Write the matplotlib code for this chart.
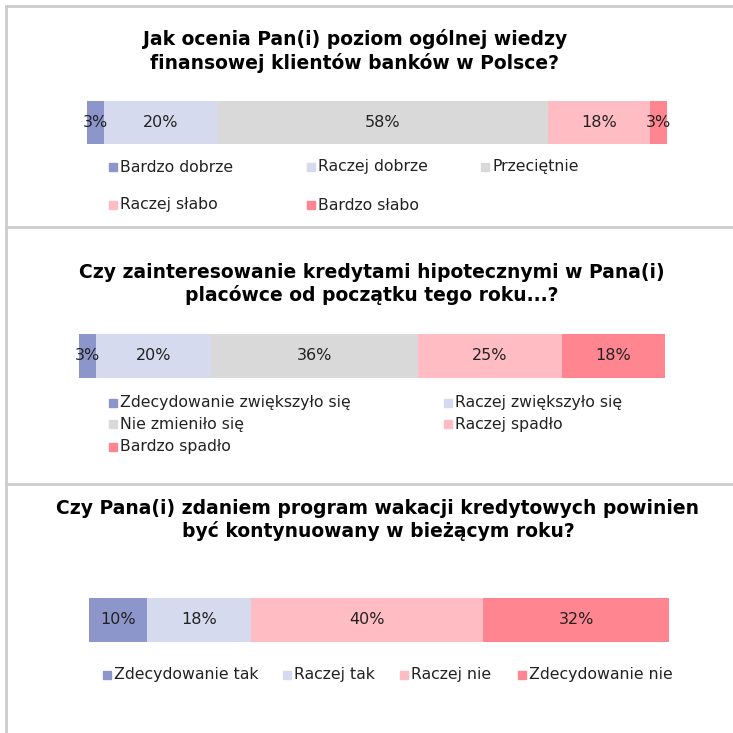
#!/usr/bin/env python3
"""Three survey questions shown as single stacked horizontal bars."""

import matplotlib
matplotlib.use('Agg')
import matplotlib.pyplot as plt
from matplotlib.patches import Rectangle
from matplotlib.lines import Line2D

W = H = 733

# question 1
q1_title = 'Jak ocenia Pan(i) poziom ogólnej wiedzy\nfinansowej klientów banków w Polsce?'
q1_labels = ['Bardzo dobrze', 'Raczej dobrze', 'Przeciętnie',
             'Raczej słabo', 'Bardzo słabo']
q1_values = [3, 20, 58, 18, 3]

# question 2
q2_title = ('Czy zainteresowanie kredytami hipotecznymi w Pana(i)\n'
            'placówce od początku tego roku...?')
q2_labels = ['Zdecydowanie zwiększyło się', 'Raczej zwiększyło się',
             'Nie zmieniło się', 'Raczej spadło', 'Bardzo spadło']
q2_values = [3, 20, 36, 25, 18]

# question 3
q3_title = ('Czy Pana(i) zdaniem program wakacji kredytowych powinien\n'
            'być kontynuowany w bieżącym roku?')
q3_labels = ['Zdecydowanie tak', 'Raczej tak', 'Raczej nie',
             'Zdecydowanie nie']
q3_values = [10, 18, 40, 32]

c_dblue = '#8D96CB'
c_lblue = '#D6DAEE'
c_gray = '#D9D9D9'
c_lpink = '#FFBCC3'
c_pink = '#FF8590'
q1_colors = [c_dblue, c_lblue, c_gray, c_lpink, c_pink]
q2_colors = [c_dblue, c_lblue, c_gray, c_lpink, c_pink]
q3_colors = [c_dblue, c_lblue, c_lpink, c_pink]

plt.rcParams['font.family'] = ['DejaVu Sans']

fig = plt.figure(figsize=(W / 100, H / 100), dpi=100)


def fx(px):
    return px / W


def fy(py):
    return 1 - py / H


def stacked_bar(x0, x1, y0, y1, values, colors):
    ax = fig.add_axes([fx(x0), fy(y1), fx(x1 - x0), (y1 - y0) / H])
    left = 0
    for v, c in zip(values, colors):
        ax.barh(0, v, left=left, height=1, color=c, linewidth=0)
        ax.text(left + v / 2, 0, f'{v}%', ha='center', va='center',
                fontsize=11.5, color='#222222')
        left += v
    ax.set_xlim(0, sum(values))
    ax.set_ylim(-0.5, 0.5)
    ax.axis('off')


def legend(items, colors, positions, size=8):
    for lab, c, (sx, cy) in zip(items, colors, positions):
        fig.add_artist(Rectangle((fx(sx), fy(cy + size / 2)), fx(size),
                                 size / H, color=c, transform=fig.transFigure))
        fig.text(fx(sx + size + 3), fy(cy), lab, ha='left', va='center',
                 fontsize=11.3, color='#222222')


# panel borders
border = '#CCCCCC'
fig.add_artist(Line2D([fx(6), fx(6)], [fy(6), fy(733)], color=border, lw=2))
for yy in (6, 227, 484):
    fig.add_artist(Line2D([fx(6), 1], [fy(yy), fy(yy)], color=border, lw=2))

# titles
title_kw = dict(ha='center', va='center', fontsize=13.5,
                fontweight='bold', linespacing=1.2)
fig.text(fx(355), fy(51), q1_title, **title_kw)
fig.text(fx(372), fy(284), q2_title, **title_kw)
fig.text(fx(378), fy(520), q3_title, **title_kw)

# bars
stacked_bar(87, 667, 101, 144, q1_values, q1_colors)
stacked_bar(79, 665, 334, 378, q2_values, q2_colors)
stacked_bar(89, 669, 598, 642, q3_values, q3_colors)

# legends
legend(q1_labels, q1_colors,
       [(109, 167), (307, 167), (481, 167), (109, 205), (307, 205)])
legend(q2_labels, q2_colors,
       [(109, 403), (444, 403), (109, 424), (444, 424), (109, 447)])
legend(q3_labels, q3_colors,
       [(103, 675), (283, 675), (400, 675), (518, 675)])

fig.savefig('out.png', dpi=100)
